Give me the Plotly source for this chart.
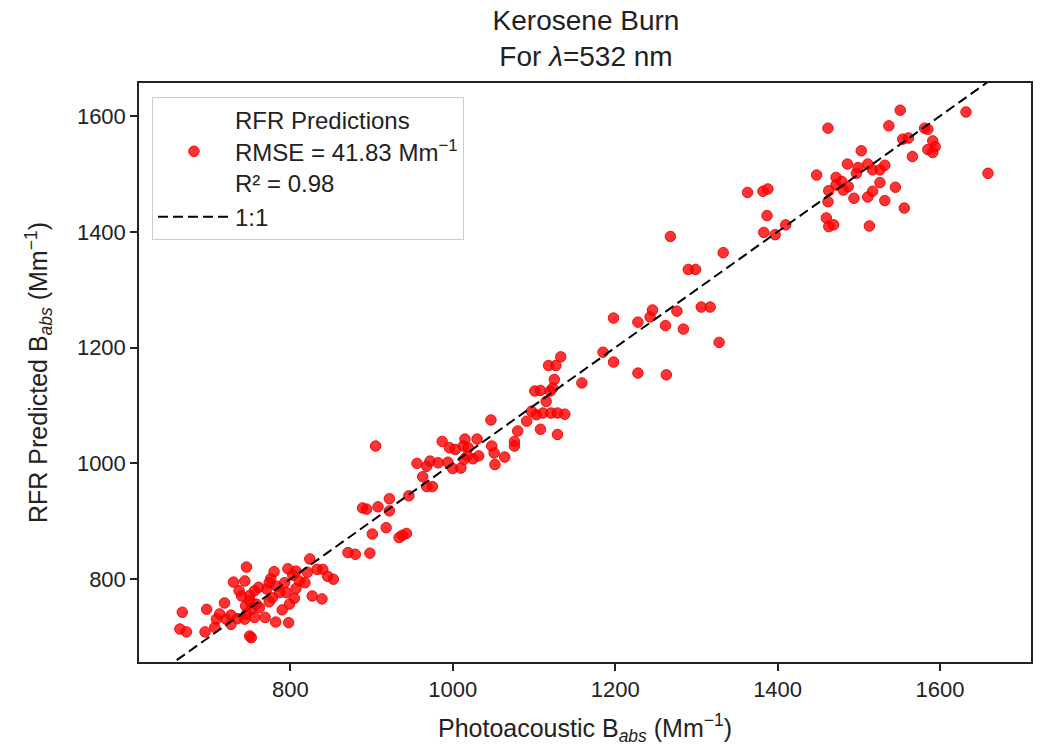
import plotly.graph_objects as go

# Photoacoustic (measured) B_abs values, Mm^-1
measured = [
    667, 664, 672, 697, 695, 719, 709, 707, 713, 721, 727, 727, 735, 744, 746, 756,
    752, 745, 740, 750, 758, 762, 769, 782, 798, 790, 799, 805, 807, 795, 787, 778,
    774, 771, 761, 756, 750, 737, 744, 730, 746, 776, 780, 774, 783, 793, 797, 807,
    803, 811, 818, 821, 824, 833, 840, 846, 853, 827, 839, 750, 752, 871, 880,
    898, 901, 918, 934, 938, 943, 889, 894, 908, 922, 922, 946, 963, 968, 975, 905,
    956, 968, 972, 982, 994, 1000, 1010, 987, 996, 1003, 1015, 1013, 1019, 1030, 1018,
    1025, 1032, 1014, 1048, 1051, 1052, 1064, 1047, 1076, 1076, 1080, 1091, 1108, 1097,
    1103, 1111, 1121, 1129, 1115, 1129,
    1138, 1120, 1123, 1125, 1101, 1108, 1118, 1127, 1133, 1159, 1185, 1198, 1228,
    1263, 1328,
    1198, 1228, 1243, 1246, 1262, 1276, 1284, 1306, 1317, 1268, 1290, 1299, 1333,
    1383, 1397,
    1363, 1382, 1388, 1387, 1410, 1462, 1448, 1472, 1463, 1462, 1460, 1463, 1469,
    1472, 1479, 1481, 1487, 1486, 1494, 1499, 1497, 1503, 1511, 1517, 1526, 1532,
    1511, 1517, 1526, 1532, 1513, 1545, 1556, 1537, 1551, 1554, 1561, 1581, 1585,
    1585, 1591, 1594, 1591, 1566, 1632, 1659,
]

# RFR predicted B_abs values, Mm^-1
predicted = [
    743, 714, 709, 748, 709, 759, 731, 717, 740, 731, 738, 722, 732, 731, 740, 734,
    748, 754, 771, 763, 757, 751, 734, 726, 725, 747, 757, 767, 784, 777, 777, 768,
    761, 783, 786, 780, 772, 780, 797, 795, 821, 801, 813, 794, 788, 794, 818, 814,
    807, 797, 794, 812, 835, 817, 817, 805, 800, 771, 766, 702, 699, 846, 843,
    845, 878, 889, 872, 876, 879, 923, 921, 925, 939, 918, 944, 977, 960, 960, 1030,
    1000, 995, 1004, 1001, 1002, 991, 992, 1038, 1027, 1024, 1042, 1030, 1027, 1042, 1013,
    1008, 1013, 1007, 1030, 1018, 998, 1011, 1075, 1038, 1030, 1056, 1073, 1059, 1090,
    1084, 1087, 1087, 1087, 1107, 1050,
    1085, 1125, 1130, 1145, 1125, 1126, 1169, 1169, 1184, 1139, 1192, 1175, 1156,
    1153, 1209,
    1251, 1244, 1253, 1265, 1238, 1263, 1232, 1270, 1270, 1392, 1335, 1335, 1364,
    1399, 1395,
    1468, 1470, 1474, 1428, 1412, 1579, 1498, 1494, 1471, 1452, 1424, 1409, 1412,
    1481, 1487, 1472, 1478, 1517, 1458, 1511, 1501, 1540, 1517, 1507, 1507, 1515,
    1460, 1470, 1485, 1454, 1410, 1477, 1441, 1583, 1610, 1560, 1562, 1579, 1577,
    1542, 1557, 1547, 1537, 1530, 1607, 1501,
]

one_to_one = [600, 1720]

rmse_label = "RFR Predictions<br>RMSE = 41.83 Mm<sup>−1</sup><br>R² = 0.98"
line_label = "1:1"

FONT = "Liberation Sans, Arial, Helvetica, sans-serif"
TXT = "#222222"

fig = go.Figure()
fig.add_trace(go.Scatter(
    x=measured, y=predicted, mode="markers", name=rmse_label,
    marker=dict(color="rgba(255,0,0,0.8)", size=10.5,
                line=dict(color="rgba(235,0,0,0.9)", width=1)),
))
fig.add_trace(go.Scatter(
    x=one_to_one, y=one_to_one, mode="lines", name=line_label,
    line=dict(color="black", width=2, dash="10px,5px"),
))

axis_common = dict(
    showgrid=False, zeroline=False, showline=True, linecolor="#222222",
    linewidth=1.5, mirror=True, ticks="outside", ticklen=7, tickwidth=1.5,
    tickcolor="#222222", tickfont=dict(family=FONT, size=22, color=TXT),
)

fig.update_layout(
    width=1043, height=748,
    margin=dict(l=139, r=10, t=83, b=85),
    paper_bgcolor="white", plot_bgcolor="white",
    font=dict(family=FONT, color=TXT),
    title=dict(
        text="Kerosene Burn<br>For <i>λ</i>=532 nm",
        x=(139 + 1033) / 2 / 1043, xanchor="center",
        y=1 - 30 / 748, yanchor="middle", yref="container",
        font=dict(family=FONT, size=28, color=TXT),
    ),
    xaxis=dict(
        range=[613.7, 1712], tickvals=[800, 1000, 1200, 1400, 1600],
        title=dict(text="Photoacoustic B<sub><i>abs</i></sub> (Mm<sup>−1</sup>)",
                   font=dict(family=FONT, size=25, color=TXT), standoff=18),
        **axis_common,
    ),
    yaxis=dict(
        range=[657, 1657], tickvals=[800, 1000, 1200, 1400, 1600],
        title=dict(text="RFR Predicted B<sub><i>abs</i></sub> (Mm<sup>−1</sup>)",
                   font=dict(family=FONT, size=25, color=TXT), standoff=22),
        **axis_common,
    ),
    legend=dict(
        x=13 / 894, y=1 - 14 / 580, xanchor="left", yanchor="top",
        bgcolor="white", bordercolor="#cccccc", borderwidth=1,
        font=dict(family=FONT, size=24, color=TXT),
        itemwidth=72,
    ),
    showlegend=True,
)

fig.write_html("out.html")
